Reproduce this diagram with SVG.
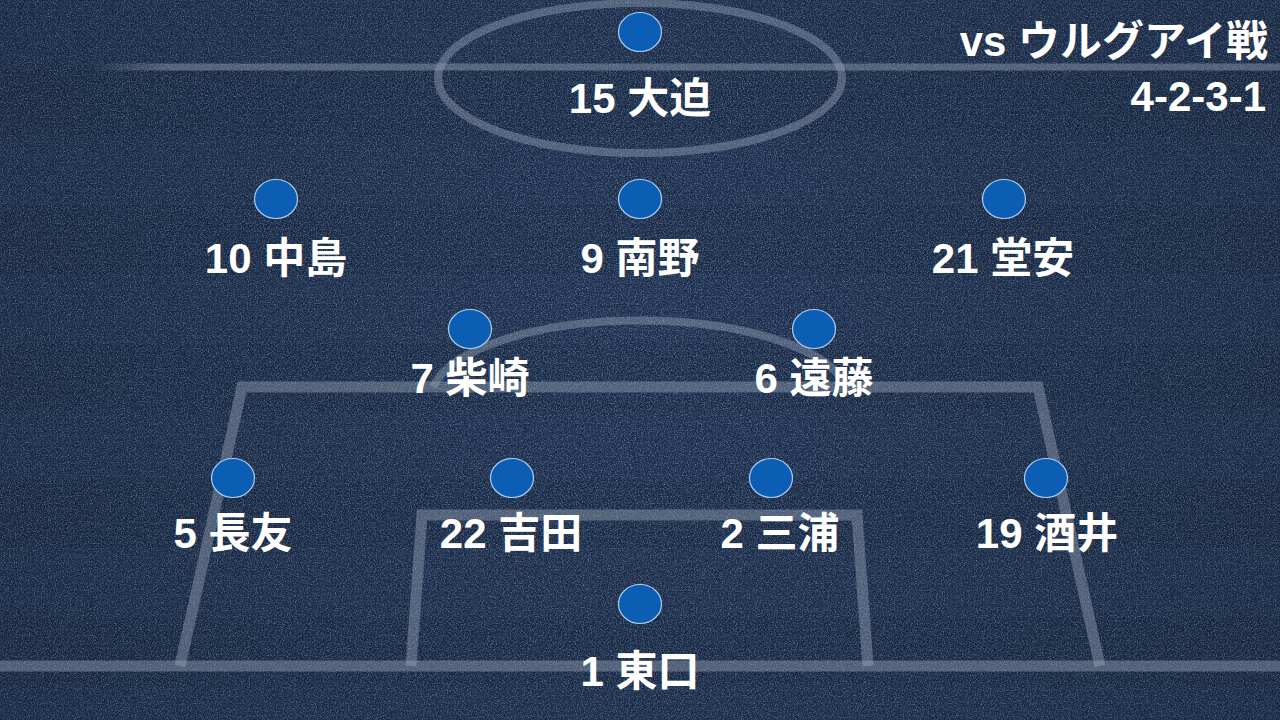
<svg xmlns="http://www.w3.org/2000/svg" width="1280" height="720" viewBox="0 0 1280 720">
<defs>
<filter id="noiseLight" x="0" y="0" width="100%" height="100%">
<feTurbulence type="fractalNoise" baseFrequency="0.85" numOctaves="2" seed="7"/>
<feColorMatrix type="matrix" values="0 0 0 0 0.40  0 0 0 0 0.50  0 0 0 0 0.68  0 0 0 3.2 -1.6"/>
</filter>
<filter id="noiseDark" x="0" y="0" width="100%" height="100%">
<feTurbulence type="fractalNoise" baseFrequency="0.7" numOctaves="2" seed="19"/>
<feColorMatrix type="matrix" values="0 0 0 0 0.03  0 0 0 0 0.06  0 0 0 0 0.13  0 0 0 3 -1.1"/>
</filter>
<radialGradient id="vig" cx="640" cy="330" r="760" gradientUnits="userSpaceOnUse">
<stop offset="0" stop-color="#000000" stop-opacity="0"/>
<stop offset="1" stop-color="#000000" stop-opacity="0.15"/>
</radialGradient>
<linearGradient id="halfFade" x1="90" y1="0" x2="170" y2="0" gradientUnits="userSpaceOnUse">
<stop offset="0" stop-color="#9aa7b9" stop-opacity="0"/>
<stop offset="1" stop-color="#9aa7b9" stop-opacity="0.42"/>
</linearGradient>
<style>
.line{fill:none;stroke:#9aa7b9;stroke-opacity:0.42;}
.dot{fill:#0c5db4;stroke:#a8cdf0;stroke-width:1.2;}
.lbl{font-family:"Liberation Sans","Noto Sans CJK JP",sans-serif;font-weight:bold;font-size:42px;fill:#ffffff;text-anchor:middle;}
.title{font-family:"Liberation Sans","Noto Sans CJK JP",sans-serif;font-weight:bold;font-size:42px;fill:#ffffff;text-anchor:end;}
</style>
</defs>
<g id="background">
<rect x="0" y="0" width="1280" height="720" fill="#182a48"/>
<g fill="#000000" fill-opacity="0.09">
<rect x="0" y="68" width="1280" height="69"/>
<rect x="0" y="205" width="1280" height="69"/>
<rect x="0" y="343" width="1280" height="68"/>
<rect x="0" y="480" width="1280" height="68"/>
<rect x="0" y="617" width="1280" height="68"/>
</g>
<rect x="0" y="0" width="1280" height="720" filter="url(#noiseDark)"/>
<rect x="0" y="0" width="1280" height="720" filter="url(#noiseLight)" opacity="0.42"/>
<rect x="0" y="0" width="1280" height="720" fill="url(#vig)"/>
</g>
<g id="pitch">
<line x1="90" y1="67" x2="1280" y2="67" stroke="url(#halfFade)" stroke-width="7"/>
<ellipse class="line" cx="640" cy="78" rx="202" ry="75" stroke-width="8"/>
<path class="line" d="M433,387 A210,80 0 0 1 847,387" stroke-width="8"/>
<path class="line" d="M180,666 L242,387 L1038,387 L1100,666" stroke-width="11" stroke-linejoin="miter"/>
<path class="line" d="M411,666 L422,515 L857,515 L868,666" stroke-width="11" stroke-linejoin="miter"/>
<line class="line" x1="0" y1="666" x2="1280" y2="666" stroke-width="11"/>
</g>
<g id="title">
<text class="title" x="1268" y="56" font-size="43">vs ウルグアイ戦</text>
<text class="title" x="1266" y="111">4-2-3-1</text>
</g>
<g id="p15"><ellipse class="dot" cx="640" cy="32" rx="21.5" ry="19.5"/><text class="lbl" x="640" y="113">15 大迫</text></g>
<g id="p10"><ellipse class="dot" cx="276" cy="199" rx="21.5" ry="19.5"/><text class="lbl" x="276" y="273">10 中島</text></g>
<g id="p9"><ellipse class="dot" cx="640" cy="199" rx="21.5" ry="19.5"/><text class="lbl" x="640" y="273">9 南野</text></g>
<g id="p21"><ellipse class="dot" cx="1004" cy="199" rx="21.5" ry="19.5"/><text class="lbl" x="1003" y="273">21 堂安</text></g>
<g id="p7"><ellipse class="dot" cx="470" cy="329" rx="21.5" ry="19.5"/><text class="lbl" x="470" y="393">7 柴崎</text></g>
<g id="p6"><ellipse class="dot" cx="814" cy="329" rx="21.5" ry="19.5"/><text class="lbl" x="814" y="393">6 遠藤</text></g>
<g id="p5"><ellipse class="dot" cx="233" cy="478" rx="21.5" ry="19.5"/><text class="lbl" x="233" y="548">5 長友</text></g>
<g id="p22"><ellipse class="dot" cx="512" cy="478" rx="21.5" ry="19.5"/><text class="lbl" x="511" y="548">22 吉田</text></g>
<g id="p2"><ellipse class="dot" cx="771" cy="478" rx="21.5" ry="19.5"/><text class="lbl" x="780" y="548">2 三浦</text></g>
<g id="p19"><ellipse class="dot" cx="1046" cy="478" rx="21.5" ry="19.5"/><text class="lbl" x="1047" y="548">19 酒井</text></g>
<g id="p1"><ellipse class="dot" cx="640" cy="604" rx="21.5" ry="19.5"/><text class="lbl" x="640" y="686">1 東口</text></g>
</svg>
